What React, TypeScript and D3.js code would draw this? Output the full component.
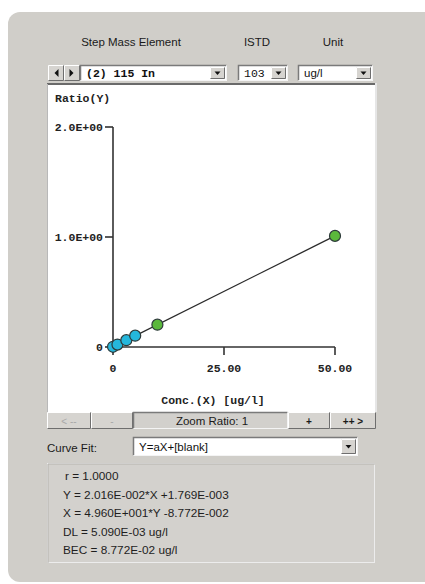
import React from "react";
import * as d3 from "d3";

// calibration standards
const concentrations = [0, 1, 3, 5, 10, 50];
const ratios = [0.002, 0.022, 0.062, 0.103, 0.203, 1.01];
const pointKinds = ["blank", "std", "std", "std", "check", "check"];
const xTicks = [0, 25, 50];
const xTickLabels = ["0", "25.00", "50.00"];
const yTicks = [0, 1, 2];
const yTickLabels = ["0", "1.0E+00", "2.0E+00"];
const fitSlope = 0.02016;
const fitIntercept = 0.001769;
const resultLines = [
  "r = 1.0000",
  "Y = 2.016E-002*X +1.769E-003",
  "X = 4.960E+001*Y -8.772E-002",
  "DL = 5.090E-03 ug/l",
  "BEC = 8.772E-02 ug/l",
];

const FACE = "#d0cec9";
const MONO = "'Liberation Mono', 'DejaVu Sans Mono', monospace";
const SANS = "'Liberation Sans', Arial, sans-serif";

// raised 3D button
const Raised = ({ x, y, w, h }: { x: number; y: number; w: number; h: number }) => (
  <g>
    <rect x={x} y={y} width={w} height={h} fill="#d6d4d0" />
    <path d={`M${x + 0.5},${y + h - 0.5} V${y + 0.5} H${x + w - 0.5}`} stroke="#fff" fill="none" />
    <path d={`M${x + 0.5},${y + h - 0.5} H${x + w - 0.5} V${y + 0.5}`} stroke="#6e6e6e" fill="none" />
  </g>
);

// sunken white field
const Sunken = ({ x, y, w, h, fill = "#fff" }: { x: number; y: number; w: number; h: number; fill?: string }) => (
  <g>
    <rect x={x} y={y} width={w} height={h} fill={fill} />
    <path d={`M${x + 0.5},${y + h - 0.5} V${y + 0.5} H${x + w - 0.5}`} stroke="#7a7a7a" fill="none" strokeWidth={1.5} />
    <path d={`M${x + 0.5},${y + h - 0.5} H${x + w - 0.5} V${y + 0.5}`} stroke="#f4f4f4" fill="none" />
  </g>
);

const DropArrow = ({ x, y, h }: { x: number; y: number; h: number }) => (
  <g>
    <Raised x={x} y={y + 2} w={15} h={h - 4} />
    <path d={`M${x + 4.5},${y + h / 2 - 1.5} h6 l-3,3.5 z`} fill="#111" />
  </g>
);

const Combo = ({ x, y, w, h, text, font, bold }: { x: number; y: number; w: number; h: number; text: string; font: string; bold?: boolean }) => (
  <g>
    <Sunken x={x} y={y} w={w} h={h} />
    <text x={x + 6} y={y + h / 2 + 4} fontFamily={font} fontSize={11.5} fontWeight={bold ? "bold" : "normal"} fill="#111">
      {text}
    </text>
    <DropArrow x={x + w - 17} y={y} h={h} />
  </g>
);

const App: React.FC = () => {
  const xScale = d3.scaleLinear().domain([0, 50]).range([113, 335]);
  const yScale = d3.scaleLinear().domain([0, 2]).range([347, 127]);

  const line = d3
    .line<number>()
    .x((c) => xScale(c))
    .y((c) => yScale(fitSlope * c + fitIntercept));

  const colorFor = (k: string) => (k === "check" ? "#5bb83c" : "#25b7dc");

  return (
    <div style={{ position: "absolute", left: 0, top: 0 }}>
      <svg width={425} height={584} style={{ display: "block" }}>
        <rect width={425} height={584} fill="#fff" />
        <rect x={8} y={12} width={430} height={570} rx={12} fill={FACE} />

        {/* header */}
        <g fontFamily={SANS} fontSize={11.5} fill="#1a1a1a" textAnchor="middle">
          <text x={131} y={46}>Step Mass Element</text>
          <text x={257} y={46}>ISTD</text>
          <text x={333} y={46}>Unit</text>
        </g>
        <Raised x={48} y={65} w={16} h={16} />
        <path d="M58.5,69 v8 l-4,-4 z" fill="#111" />
        <Raised x={64} y={65} w={16} h={16} />
        <path d="M69.5,69 v8 l4,-4 z" fill="#111" />
        <Combo x={80} y={65} w={147} h={16} text="(2) 115 In" font={MONO} bold />
        <Combo x={238} y={65} w={50} h={16} text="103" font={MONO} />
        <Combo x={298} y={65} w={75} h={16} text="ug/l" font={SANS} />

        {/* plot area */}
        <rect x={47} y={83} width={328} height={329} fill="#fff" />
        <path d="M47,84 H376" stroke="#6a6a6a" strokeWidth={2} />
        <path d="M47.5,84 V412" stroke="#b8b8b8" />
        <path d="M376,83 V412" stroke="#e6e6e6" strokeWidth={2} />

        <text x={55} y={102} fontFamily={MONO} fontWeight="bold" fontSize={11.5} fill="#222">
          Ratio(Y)
        </text>

        {/* axes */}
        <g stroke="#333" strokeWidth={1.6} fill="none">
          <line x1={xScale(0)} x2={xScale(0)} y1={yScale(0)} y2={yScale(2)} />
          <line x1={xScale(0)} x2={xScale(50)} y1={yScale(0)} y2={yScale(0)} />
          {yTicks.map((t) => (
            <line key={t} x1={xScale(0) - 8} x2={xScale(0)} y1={yScale(t)} y2={yScale(t)} />
          ))}
          {xTicks.map((t) => (
            <line key={t} x1={xScale(t)} x2={xScale(t)} y1={yScale(0)} y2={yScale(0) + 8} />
          ))}
        </g>
        <g fontFamily={MONO} fontWeight="bold" fontSize={11.5} fill="#222">
          {yTicks.map((t, i) => (
            <text key={t} x={xScale(0) - 10} y={yScale(t) + 4} textAnchor="end">
              {yTickLabels[i]}
            </text>
          ))}
          {xTicks.map((t, i) => (
            <text key={t} x={xScale(t)} y={yScale(0) + 25} textAnchor="middle">
              {xTickLabels[i]}
            </text>
          ))}
          <text x={213} y={404} textAnchor="middle">Conc.(X) [ug/l]</text>
        </g>

        {/* fit line */}
        <path d={line([0, 50]) || ""} stroke="#2b2b2b" strokeWidth={1.3} fill="none" />

        {/* points */}
        {concentrations.map((c, i) => (
          <circle
            key={i}
            cx={xScale(c)}
            cy={yScale(ratios[i])}
            r={5.5}
            fill={colorFor(pointKinds[i])}
            stroke="#2d3a3a"
            strokeWidth={1.2}
          />
        ))}

        {/* zoom toolbar */}
        <Raised x={47} y={412} w={44} h={17} />
        <text x={69} y={424.5} textAnchor="middle" fontFamily={SANS} fontSize={10} fill="#a8a8a8">&lt; --</text>
        <Raised x={91} y={412} w={42} h={17} />
        <text x={112} y={424.5} textAnchor="middle" fontFamily={SANS} fontSize={10} fill="#a8a8a8">-</text>
        <Sunken x={133} y={412} w={155} h={17} fill="#d2d0cc" />
        <text x={212} y={424.5} textAnchor="middle" fontFamily={SANS} fontSize={11.5} fill="#1a1a1a">Zoom Ratio: 1</text>
        <Raised x={288} y={412} w={42} h={17} />
        <text x={309} y={424.5} textAnchor="middle" fontFamily={SANS} fontSize={10} fontWeight="bold" fill="#1a1a1a">+</text>
        <Raised x={330} y={412} w={46} h={17} />
        <text x={353} y={424.5} textAnchor="middle" fontFamily={SANS} fontSize={10} fontWeight="bold" fill="#1a1a1a">++ &gt;</text>

        {/* curve fit */}
        <text x={47} y={452} fontFamily={SANS} fontSize={11.5} fill="#1a1a1a">Curve Fit:</text>
        <Combo x={133} y={437} w={225} h={19} text="Y=aX+[blank]" font={SANS} />

        {/* results */}
        <rect x={47.5} y={463.5} width={327} height={99} fill="#d3d1cd" stroke="#ececec" />
        <path d="M48,563 V464 H375" stroke="#b5b3ae" fill="none" />
        <g fontFamily={SANS} fontSize={11.8} fill="#1e1e1e">
          {resultLines.map((s, i) => (
            <text key={i} x={i === 0 ? 65 : 63} y={480 + i * 18.5}>
              {s}
            </text>
          ))}
        </g>
      </svg>
    </div>
  );
};

export default App;
